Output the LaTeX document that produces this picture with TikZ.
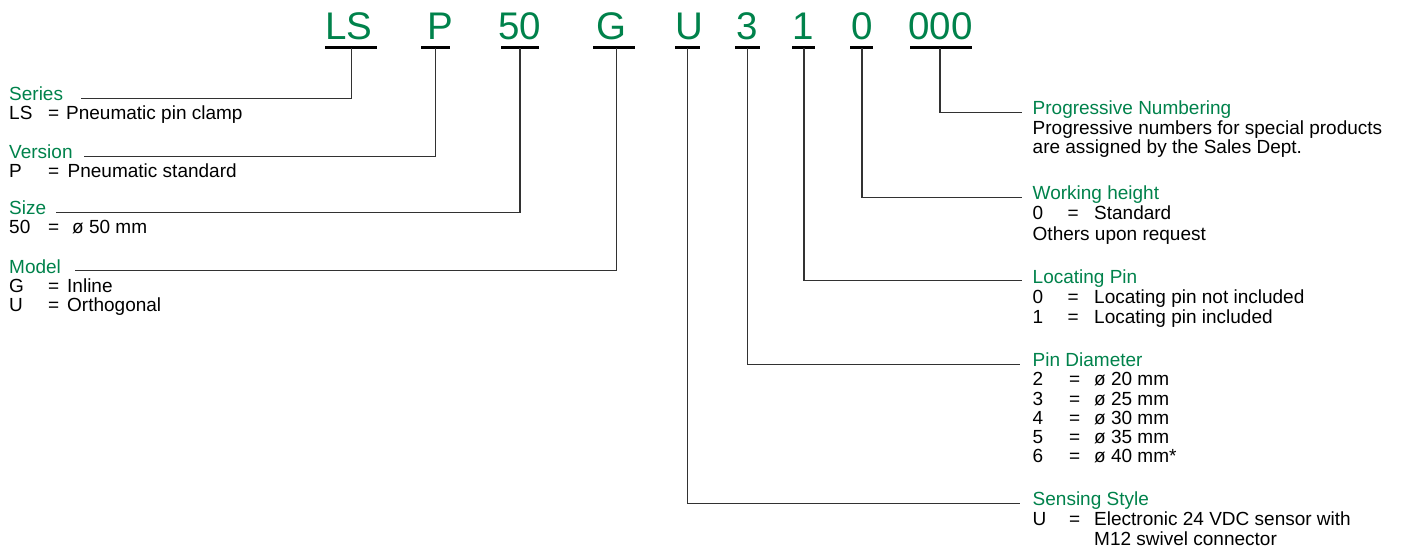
\documentclass[tikz,border=0pt]{standalone}
\usepackage{fontspec}
\setmainfont{Liberation Sans}
\definecolor{codegreen}{RGB}{0,130,75}
\definecolor{linegray}{RGB}{50,50,50}
\newcommand\lrow[4]{\makebox[#1][l]{#2}\makebox[#3][l]{=}#4}
\begin{document}
\begin{tikzpicture}[x=1pt,y=-1pt,
  code/.style={anchor=base,inner sep=0pt,text=codegreen,font=\fontsize{38.5}{40}\selectfont},
  head/.style={anchor=base west,inner sep=0pt,text=codegreen,font=\fontsize{19}{19.5}\selectfont},
  body/.style={anchor=base west,inner sep=0pt,font=\fontsize{19}{19.5}\selectfont},
  uline/.style={line width=2.4pt,draw=black},
  conn/.style={line width=1.1pt,draw=linegray}]
\useasboundingbox (0,0) rectangle (1401,548);

% ---- code characters ----
\node[code] (cLS)  at (349,40)   {LS};
\node[code] (cP)   at (440.5,40) {P};
\node[code] (c50)  at (520,40)   {50};
\node[code] (cG)   at (611.5,40) {G};
\node[code] (cU)   at (689,40)   {U};
\node[code] (c3)   at (747.5,40) {3};
\node[code] (c1)   at (803.5,40) {1};
\node[code] (c0)   at (862,40)   {0};
\node[code] (c000) at (940.5,40) {000};

% underlines
\draw[uline] (325,47.5) -- (377,47.5);
\draw[uline] (421,47.5) -- (450,47.5);
\draw[uline] (501,47.5) -- (539,47.5);
\draw[uline] (593,47.5) -- (635,47.5);
\draw[uline] (675,47.5) -- (700,47.5);
\draw[uline] (735,47.5) -- (760,47.5);
\draw[uline] (792,47.5) -- (815,47.5);
\draw[uline] (850,47.5) -- (873,47.5);
\draw[uline] (910,47.5) -- (972,47.5);

% tick points
\coordinate (tLS)  at (351.3,48);
\coordinate (tP)   at (435.3,48);
\coordinate (t50)  at (520,48);
\coordinate (tG)   at (616.7,48);
\coordinate (tU)   at (687.3,48);
\coordinate (t3)   at (747.3,48);
\coordinate (t1)   at (804,48);
\coordinate (t0)   at (862,48);
\coordinate (t000) at (940,48);

% ---- left column ----
\node[head] (hSeries) at (9,101) {Series};
\node[body] (bSeries) at (9,120) {\lrow{39pt}{LS}{18pt}{Pneumatic pin clamp}};

\node[head] (hVersion) at (9,159) {Version};
\node[body] (bVersion) at (9,177.5) {\lrow{39pt}{P}{19.5pt}{Pneumatic standard}};

\node[head] (hSize) at (9,215) {Size};
\node[body] (bSize) at (9,234) {\lrow{39pt}{50}{24pt}{ø 50 mm}};

\node[head] (hModel) at (9,273) {Model};
\node[body] (bModelG) at (9,292) {\lrow{39pt}{G}{19pt}{Inline}};
\node[body] (bModelU) at (9,311.5) {\lrow{39pt}{U}{19pt}{Orthogonal}};

% ---- right column ----
\node[head] (hProg) at (1032.5,115) {Progressive Numbering};
\node[body] (bProg1) at (1032.5,134.5) {Progressive numbers for special products};
\node[body] (bProg2) at (1032.5,154) {are assigned by the Sales Dept.};

\node[head] (hWork) at (1032.5,200) {Working height};
\node[body] (bWork1) at (1032.5,220) {\lrow{35pt}{0}{26.5pt}{Standard}};
\node[body] (bWork2) at (1032.5,240.5) {Others upon request};

\node[head] (hLoc) at (1032.5,283.5) {Locating Pin};
\node[body] (bLoc0) at (1032.5,303.5) {\lrow{35pt}{0}{26.5pt}{Locating pin not included}};
\node[body] (bLoc1) at (1032.5,323.5) {\lrow{35pt}{1}{26.5pt}{Locating pin included}};

\node[head] (hPin) at (1032.5,366.7) {Pin Diameter};
\node[body] (bPin2) at (1032.5,385.8) {\lrow{36.5pt}{2}{25pt}{ø 20 mm}};
\node[body] (bPin3) at (1032.5,405)   {\lrow{36.5pt}{3}{25pt}{ø 25 mm}};
\node[body] (bPin4) at (1032.5,424.2) {\lrow{36.5pt}{4}{25pt}{ø 30 mm}};
\node[body] (bPin5) at (1032.5,443.4) {\lrow{36.5pt}{5}{25pt}{ø 35 mm}};
\node[body] (bPin6) at (1032.5,462.6) {\lrow{36.5pt}{6}{25pt}{ø 40 mm*}};

\node[head] (hSens) at (1032.5,505.7) {Sensing Style};
\node[body] (bSens1) at (1032.5,525.8) {\lrow{36.5pt}{U}{25pt}{Electronic 24 VDC sensor with}};
\node[body] (bSens2) at (1094,545) {M12 swivel connector};

% ---- connectors ----
\draw[conn] (tLS)  |- ([xshift=18pt]hSeries.mid east);
\draw[conn] (tP)   |- ([xshift=11pt]hVersion.mid east);
\draw[conn] (t50)  |- ([xshift=10pt]hSize.mid east);
\draw[conn] (tG)   |- ([xshift=14pt]hModel.mid east);
\draw[conn] (t000) |- ([xshift=-11pt]hProg.mid west);
\draw[conn] (t0)   |- ([xshift=-11pt]hWork.mid west);
\draw[conn] (t1)   |- ([xshift=-11pt]hLoc.mid west);
\draw[conn] (t3)   |- ([xshift=-13pt]hPin.mid west);
\draw[conn] (tU)   |- ([xshift=-13pt]hSens.mid west);
\end{tikzpicture}
\end{document}
